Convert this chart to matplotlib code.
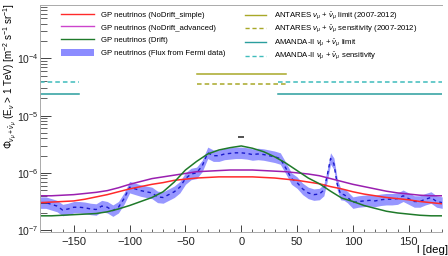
import numpy as np
import matplotlib
matplotlib.use("Agg")
import matplotlib.pyplot as plt
from matplotlib.patches import Patch
from matplotlib.lines import Line2D
from matplotlib.ticker import MultipleLocator, LogLocator, NullFormatter

plt.rcParams['font.family'] = ['Liberation Sans', 'DejaVu Sans']
plt.rcParams['mathtext.fontset'] = 'custom'
plt.rcParams['mathtext.rm'] = 'Liberation Sans'
plt.rcParams['mathtext.it'] = 'Liberation Sans:italic'

# ---- data (log10 of flux) ----
l_model = [-180, -170, -160, -150, -140, -130, -120, -110, -100, -90, -80, -70, -60, -50, -40, -30, -20, -10,
           0, 10, 20, 30, 40, 50, 60, 70, 80, 90, 100, 110, 120, 130, 140, 150, 160, 170, 180]
log_nodrift_simple = [-6.52, -6.51, -6.50, -6.49, -6.46, -6.42, -6.38, -6.33, -6.28, -6.24, -6.20, -6.17, -6.13,
                      -6.11, -6.09, -6.08, -6.07, -6.07, -6.07, -6.07, -6.08, -6.09, -6.11, -6.13, -6.16, -6.19,
                      -6.24, -6.28, -6.33, -6.37, -6.40, -6.43, -6.45, -6.47, -6.50, -6.52, -6.54]
log_nodrift_adv = [-6.40, -6.40, -6.39, -6.38, -6.36, -6.34, -6.31, -6.26, -6.20, -6.15, -6.10, -6.07, -6.04,
                   -6.01, -5.98, -5.97, -5.96, -5.95, -5.95, -5.95, -5.96, -5.97, -5.98, -6.00, -6.02, -6.05,
                   -6.10, -6.15, -6.20, -6.24, -6.28, -6.32, -6.35, -6.37, -6.39, -6.40, -6.40]
log_drift = [-6.75, -6.75, -6.74, -6.73, -6.72, -6.71, -6.68, -6.63, -6.57, -6.50, -6.43, -6.33, -6.16,
             -5.95, -5.80, -5.67, -5.60, -5.56, -5.53, -5.57, -5.63, -5.72, -5.83, -5.96, -6.09, -6.19,
             -6.32, -6.44, -6.50, -6.57, -6.62, -6.67, -6.70, -6.72, -6.74, -6.75, -6.75]

l_fermi = [-180, -175, -170, -165, -160, -155, -150, -145, -140, -135, -130, -125, -120, -115, -110, -105,
           -100, -95, -90, -85, -80, -75, -70, -65, -60, -55, -50, -45, -40, -35, -30, -25, -20, -15, -10,
           -5, 0, 5, 10, 15, 20, 25, 30, 35, 40, 45, 50, 55, 60, 65, 70, 74, 77, 80, 83, 86, 89, 92, 95,
           100, 105, 110, 115, 120, 125, 130, 135, 140, 145, 150, 155, 160, 165, 170, 175, 180]
log_fermi = [-6.52, -6.52, -6.55, -6.58, -6.65, -6.63, -6.60, -6.60, -6.61, -6.63, -6.64, -6.58, -6.60,
             -6.66, -6.60, -6.45, -6.25, -6.28, -6.31, -6.33, -6.35, -6.42, -6.43, -6.38, -6.33, -6.25,
             -6.10, -6.02, -6.00, -5.88, -5.65, -5.70, -5.70, -5.67, -5.66, -5.65, -5.65, -5.66, -5.68,
             -5.67, -5.68, -5.70, -5.72, -5.75, -5.92, -6.10, -6.17, -6.28, -6.35, -6.38, -6.37, -6.30,
             -6.05, -5.75, -5.84, -6.20, -6.37, -6.38, -6.42, -6.52, -6.50, -6.49, -6.48, -6.49, -6.47,
             -6.46, -6.46, -6.45, -6.40, -6.45, -6.50, -6.50, -6.46, -6.43, -6.50, -6.52]
fermi_err_dex = 0.10

antares_range = [-40, 40]
antares_limit = 5.3e-5
antares_sens = 3.5e-5
amanda_ranges = [[-180, -145], [33, 180]]
amanda_limit = 2.35e-5
amanda_sens = 3.8e-5
marker_point = (0, 4.3e-6)

# ---- plot ----
fig = plt.figure(figsize=(4.48, 2.56), dpi=100)
ax = fig.add_axes([0.09, 0.094, 0.897, 0.886])

lf = np.array(l_fermi)
cf = 10 ** np.array(log_fermi)
ax.fill_between(lf, cf / 10 ** fermi_err_dex, cf * 10 ** fermi_err_dex, color='#8c8cff', lw=0, alpha=0.9)
ax.plot(lf, cf, color='#1a1acc', lw=1.0, ls=(0, (2.5, 2.5)))

ax.plot(l_model, 10 ** np.array(log_nodrift_simple), color='#ff2a2a', lw=1.1)
ax.plot(l_model, 10 ** np.array(log_nodrift_adv), color='#9a1fb0', lw=1.1)
ax.plot(l_model, 10 ** np.array(log_drift), color='#1f7a2a', lw=1.1)

ax.plot(antares_range, [antares_limit] * 2, color='#a8a828', lw=1.1)
ax.plot(antares_range, [antares_sens] * 2, color='#a8a828', lw=1.1, ls=(0, (3, 2)))
for r in amanda_ranges:
    ax.plot(r, [amanda_limit] * 2, color='#2a9e9e', lw=1.1)
    ax.plot(r, [amanda_sens] * 2, color='#3fbcbc', lw=1.1, ls=(0, (3, 2)))

ax.plot([marker_point[0]], [marker_point[1]], marker='_', color='#333333', ms=4, mew=1.2)

ax.set_yscale('log')
ax.set_xlim(-180, 180)
ax.set_ylim(9.3e-8, 8.5e-4)

ax.xaxis.set_major_locator(MultipleLocator(50))
ax.xaxis.set_minor_locator(MultipleLocator(10))
ax.yaxis.set_major_locator(LogLocator(base=10, numticks=10))
ax.yaxis.set_minor_locator(LogLocator(base=10, subs=np.arange(2, 10), numticks=20))
ax.yaxis.set_minor_formatter(NullFormatter())
ax.tick_params(axis='both', which='both', direction='in', labelsize=8, colors='#222222')
ax.tick_params(axis='y', labelsize=7.5)
ax.tick_params(axis='both', which='major', length=5, width=0.6)
ax.tick_params(axis='both', which='minor', length=2.5, width=0.5)
ax.tick_params(axis='y', which='major', length=8)
ax.tick_params(axis='y', which='minor', length=5)
ax.tick_params(axis='x', pad=4)
ax.tick_params(axis='y', pad=1.0)
for s in ['right']:
    ax.spines[s].set_visible(False)
for s in ['top', 'left', 'bottom']:
    ax.spines[s].set_color('#aaaaaa')
    ax.spines[s].set_linewidth(0.7)

fig.text(0.999, 0.002, 'l [deg]', fontsize=8.2, ha='right', va='bottom')
fig.text(0.002, 0.988,
         r'$\Phi_{\nu_\mu+\bar{\nu}_\mu}$ (E$_\nu$ > 1 TeV) [m$^{-2}$ s$^{-1}$ sr$^{-1}$]',
         fontsize=7.1, rotation=90, ha='left', va='top')

h1 = [Line2D([], [], color='#ff2a2a', lw=1.0),
      Line2D([], [], color='#cc44cc', lw=1.0),
      Line2D([], [], color='#1f7a2a', lw=1.0),
      Patch(facecolor='#8c8cff', edgecolor='#3333dd', lw=0)]
t1 = ['GP neutrinos (NoDrift_simple)', 'GP neutrinos (NoDrift_advanced)',
      'GP neutrinos (Drift)', 'GP neutrinos (Flux from Fermi data)']
leg1 = ax.legend(h1, t1, loc='upper left', bbox_to_anchor=(0.038, 1.0), frameon=False,
                 fontsize=5.6, handlelength=4.2, handleheight=1.0, handletextpad=0.9,
                 labelspacing=0.6, borderaxespad=0.3)
ax.add_artist(leg1)

h2 = [Line2D([], [], color='#a8a828', lw=1.0),
      Line2D([], [], color='#a8a828', lw=1.0, ls=(0, (3, 2))),
      Line2D([], [], color='#2a9e9e', lw=1.0),
      Line2D([], [], color='#3fbcbc', lw=1.0, ls=(0, (3, 2)))]
t2 = [r'ANTARES $\nu_\mu$ + $\bar{\nu}_\mu$ limit (2007-2012)',
      r'ANTARES $\nu_\mu$ + $\bar{\nu}_\mu$ sensitivity (2007-2012)',
      r'AMANDA-II $\nu_\mu$ + $\bar{\nu}_\mu$ limit',
      r'AMANDA-II $\nu_\mu$ + $\bar{\nu}_\mu$ sensitivity']
leg2 = ax.legend(h2, t2, loc='upper left', bbox_to_anchor=(0.497, 1.0), frameon=False,
                 fontsize=5.6, handlelength=2.6, handletextpad=1.1,
                 labelspacing=0.3, borderaxespad=0.3)

fig.savefig('out.png', dpi=100)
